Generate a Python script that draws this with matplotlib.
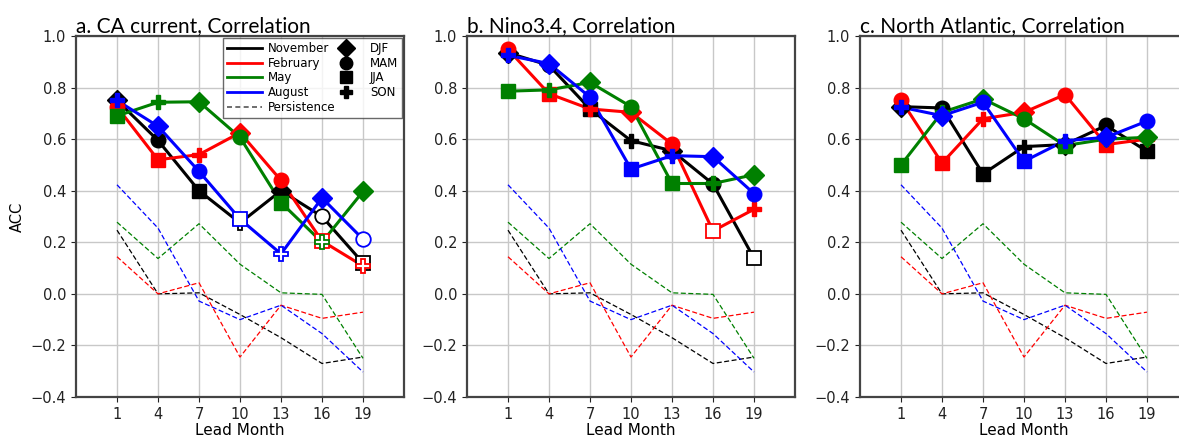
import matplotlib
matplotlib.use("Agg")
import matplotlib.pyplot as plt
from matplotlib.lines import Line2D

# Lead times (months)
leads = [1, 4, 7, 10, 13, 16, 19]
tick_labels = ["1", "4", "7", "10", "13", "16", "19"]

# Initialisation months and their calendar month numbers
init_names = ["November", "February", "May", "August"]
init_month = [11, 2, 5, 8]
init_colors = ["black", "red", "green", "blue"]

# Target-season markers
season_names = ["DJF", "MAM", "JJA", "SON"]
season_markers = ["D", "o", "s", "P"]

# Persistence forecast skill (same reference in every panel)
pers_nov = [0.247, 0.0, 0.004, -0.08, -0.17, -0.27, -0.245]
pers_feb = [0.144, 0.0, 0.043, -0.245, -0.044, -0.095, -0.071]
pers_may = [0.278, 0.137, 0.272, 0.115, 0.004, -0.002, -0.25]
pers_aug = [0.423, 0.255, -0.028, -0.10, -0.044, -0.154, -0.303]

# a. CA current
ca_nov = [0.75, 0.595, 0.40, 0.275, 0.40, 0.30, 0.12]
ca_feb = [0.725, 0.52, 0.54, 0.625, 0.44, 0.205, 0.108]
ca_may = [0.69, 0.743, 0.745, 0.607, 0.354, 0.20, 0.397]
ca_aug = [0.75, 0.65, 0.475, 0.29, 0.155, 0.372, 0.212]
ca_nov_open = [0, 0, 0, 1, 0, 1, 1]
ca_feb_open = [0, 0, 0, 0, 0, 1, 1]
ca_may_open = [0, 0, 0, 0, 0, 1, 0]
ca_aug_open = [0, 0, 0, 1, 1, 0, 1]

# b. Nino3.4
nino_nov = [0.935, 0.886, 0.717, 0.594, 0.555, 0.426, 0.138]
nino_feb = [0.948, 0.776, 0.717, 0.704, 0.581, 0.244, 0.328]
nino_may = [0.786, 0.791, 0.82, 0.726, 0.428, 0.428, 0.462]
nino_aug = [0.925, 0.893, 0.763, 0.484, 0.536, 0.532, 0.389]
nino_nov_open = [0, 0, 0, 0, 0, 0, 1]
nino_feb_open = [0, 0, 0, 0, 0, 1, 0]
nino_may_open = [0, 0, 0, 0, 0, 0, 0]
nino_aug_open = [0, 0, 0, 0, 0, 0, 0]

# c. North Atlantic
na_nov = [0.726, 0.721, 0.465, 0.571, 0.579, 0.653, 0.553]
na_feb = [0.752, 0.507, 0.679, 0.704, 0.773, 0.579, 0.60]
na_may = [0.50, 0.704, 0.756, 0.679, 0.575, 0.60, 0.607]
na_aug = [0.724, 0.691, 0.743, 0.514, 0.594, 0.607, 0.67]
na_nov_open = [0, 0, 0, 0, 0, 0, 0]
na_feb_open = [0, 0, 0, 0, 0, 0, 0]
na_may_open = [0, 0, 0, 0, 0, 0, 0]
na_aug_open = [0, 0, 0, 0, 0, 0, 0]

panels = [
    ("a. CA current, Correlation",
     [ca_nov, ca_feb, ca_may, ca_aug],
     [ca_nov_open, ca_feb_open, ca_may_open, ca_aug_open]),
    ("b. Nino3.4, Correlation",
     [nino_nov, nino_feb, nino_may, nino_aug],
     [nino_nov_open, nino_feb_open, nino_may_open, nino_aug_open]),
    ("c. North Atlantic, Correlation",
     [na_nov, na_feb, na_may, na_aug],
     [na_nov_open, na_feb_open, na_may_open, na_aug_open]),
]
persistence = [pers_nov, pers_feb, pers_may, pers_aug]


def season_of(month):
    m = (month - 1) % 12 + 1
    if m in (12, 1, 2):
        return 0
    if m in (3, 4, 5):
        return 1
    if m in (6, 7, 8):
        return 2
    return 3


fig = plt.figure(figsize=(11.79, 4.37), dpi=100)
W, H = 1179.0, 437.0
ax_lefts = [76, 467, 860]
ax_w = 328
ax_bottom = H - 397
ax_h = 361

spine_color = "#444444"
ms = {"D": 10, "o": 10.5, "s": 10, "P": 10.5}
leg_ms = {"D": 9, "o": 9, "s": 8.5, "P": 9}

for k, (title, series, open_flags) in enumerate(panels):
    ax = fig.add_axes([ax_lefts[k] / W, ax_bottom / H, ax_w / W, ax_h / H])
    ax.set_xlim(-2, 22)
    ax.set_ylim(-0.4, 1.0)
    ax.set_xticks(leads)
    ax.set_xticklabels(tick_labels)
    ax.set_yticks([-0.4, -0.2, 0.0, 0.2, 0.4, 0.6, 0.8, 1.0])
    ax.grid(True, color="#c8c8c8", linewidth=1.0)
    ax.set_axisbelow(True)
    ax.tick_params(labelsize=10.5, colors="#222222")
    for sp in ax.spines.values():
        sp.set_color(spine_color)
        sp.set_linewidth(1.6)

    # persistence reference
    for pers, col in zip(persistence, init_colors):
        ax.plot(leads, pers, linestyle=(0, (4, 2)), color=col,
                linewidth=0.9, zorder=2)

    # model skill by initialisation month
    for vals, flags, col, m0 in zip(series, open_flags, init_colors, init_month):
        ax.plot(leads, vals, color=col, linewidth=2.2, zorder=3)
        for x, y, f in zip(leads, vals, flags):
            mk = season_markers[season_of(m0 + x)]
            ax.plot([x], [y], marker=mk, markersize=ms[mk],
                    markerfacecolor="white" if f else col,
                    markeredgecolor=col,
                    markeredgewidth=1.3 if f else 1.0,
                    linestyle="none", zorder=4)

    ax.set_title(title, loc="left", fontsize=15, family="Lato", pad=3)
    ax.set_xlabel("Lead Month", fontsize=11, labelpad=1)
    if k == 0:
        ax.set_ylabel("ACC", fontsize=10.5)
        handles = [Line2D([], [], color=c, linewidth=2.0) for c in init_colors]
        handles.append(Line2D([], [], color="#555555", linestyle=(0, (3, 2)),
                              linewidth=1.2))
        handles += [Line2D([], [], color="black", marker=m, linestyle="none",
                           markersize=leg_ms[m]) for m in season_markers]
        labels = init_names + ["Persistence"] + season_names
        leg = ax.legend(handles, labels, loc="upper right", ncol=2,
                        fontsize=8.5, frameon=True, fancybox=False,
                        borderaxespad=0.15, handlelength=3.0,
                        handletextpad=0.5, columnspacing=-0.6,
                        labelspacing=0.15, borderpad=0.35)
        leg.get_frame().set_edgecolor("#444444")
        leg.get_frame().set_linewidth(1.0)
        leg.set_zorder(10)

fig.savefig("out.png", dpi=100)
